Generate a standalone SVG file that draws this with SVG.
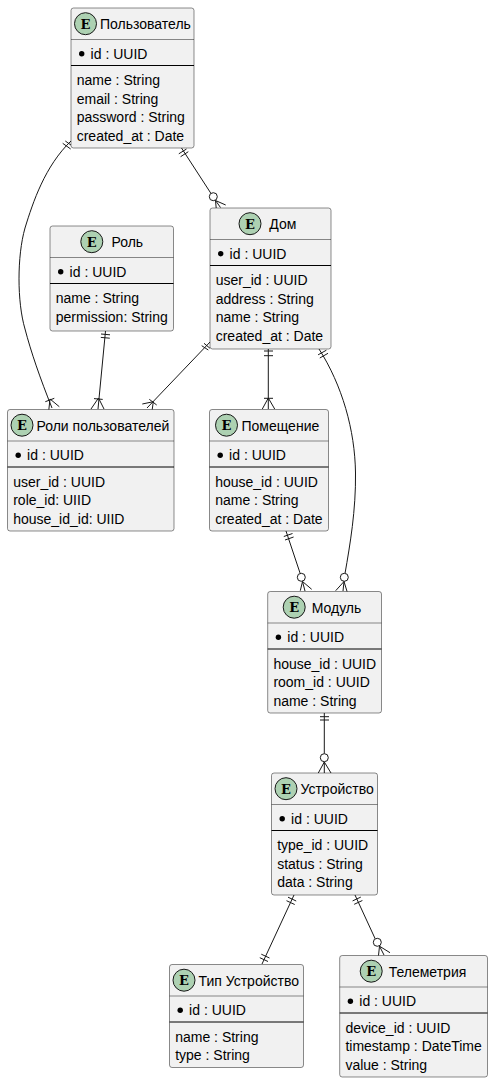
<svg xmlns="http://www.w3.org/2000/svg" width="493" height="1083" viewBox="0 0 493 1083">
<style>
text{font-family:"Liberation Sans",Arial,sans-serif;font-size:14px;fill:#000}
.box{fill:#F1F1F1;stroke:#181818;stroke-width:.5}
.sep{stroke:#181818;stroke-width:.5;fill:none}
.div{stroke:#000;stroke-width:1;fill:none}
.spot{fill:#ADD1B2;stroke:#181818;stroke-width:1}
text.e{font-family:"DejaVu Serif",serif;font-weight:bold;font-size:13px;text-anchor:middle}
.dot{fill:#000}
#connectors path{fill:none;stroke:#181818;stroke-width:1}
#connectors circle{fill:#fff;stroke:#181818;stroke-width:1}
</style>
<rect width="493" height="1083" fill="#fff"/>
<g id="connectors">
<path d="M71,141C45,166 33,202 25,228C17,256 17,302 25,329C31,352 40,378 52,408"/>
<path d="M62.7,143.3L70.7,149M65.3,141L72.3,146"/>
<path d="M48.7,411L50,399L59.3,406.7M45.3,401.7L54.3,398.3"/>
<path d="M181.5,148L211,193.5M178.8,153.8L186.5,149M180.6,156.7L188.3,151.7"/>
<circle cx="213.3" cy="196.7" r="4"/>
<path d="M216.5,211.7L215.5,200.5L225.7,205M215.5,200.5L220.5,207.5"/>
<path d="M105.5,331L98,409M101,334L110,334.8M100.8,337.4L109.8,338.2"/>
<path d="M91,409L98.5,398L104,409M94,398.6L102.7,399.4"/>
<path d="M211,341L147,408M201.7,345.7L208.3,350M204,343.3L210,348.3"/>
<path d="M151.7,413.3L153.3,401.7L142.3,404M149.3,399.3L156.7,405"/>
<path d="M268.3,349V409M264,351H273M264,355.7H273"/>
<path d="M262.3,409L268.3,398L274.7,409M264,398.3H273"/>
<path d="M319,349C342,385 355,430 355.5,473C356,510 350,545 345,573.5M318.1,354.8L326.4,350.2M319.8,358L328,353.3"/>
<circle cx="344.3" cy="577.3" r="4"/>
<path d="M335.7,590.7L344,581.5L347.3,592.3M344,581.5L343,591"/>
<path d="M286,531L300.2,573.5M283.8,536.5L292.5,533.5M285,540L293.6,537"/>
<circle cx="301.3" cy="577.3" r="4"/>
<path d="M300.3,590.7L302.5,581.5L311.7,589.3M302.5,581.5L305,591"/>
<path d="M324.3,713V753.7M320,716.7H329M320,720H329"/>
<circle cx="324.3" cy="757.7" r="4"/>
<path d="M318.3,773L324.3,762L331,773M324.3,762V773"/>
<path d="M294,895L262,964M288,897.2L296.2,901M286.5,900.7L294.7,904.5M261.3,954.2L269.5,958M259.8,957.7L268,961.5"/>
<path d="M355,895L375.2,938.8M352.6,900.9L360.8,897.1M354.2,904.3L362.4,900.5"/>
<circle cx="377.3" cy="942.3" r="4"/>
<path d="M378.3,957.3L379.5,946.2L390,952.7M379.5,946.2L384,955"/>
</g>
<g id="user" transform="translate(71,8)">
<rect class="box" x="0" y="0" width="123" height="140" rx="2.5"/>
<path class="sep" d="M0,31.5H123"/><path class="div" d="M0,57.5H123"/>
<circle class="spot" cx="14.5" cy="15.7" r="11"/><text class="e" x="14.5" y="20.5">E</text>
<text x="29" y="21">Пользователь</text>
<circle class="dot" cx="10.7" cy="45.7" r="2.7"/><text x="19.6" y="50.5">id : UUID</text>
<text x="5.7" y="77">name : String</text><text x="5.7" y="95.6">email : String</text><text x="5.7" y="114.2">password : String</text><text x="5.7" y="133">created_at : Date</text>
</g>
<g id="role" transform="translate(50,226)">
<rect class="box" x="0" y="0" width="123.5" height="105" rx="2.5"/>
<path class="sep" d="M0,31.5H123.5"/><path class="div" d="M0,57.5H123.5"/>
<circle class="spot" cx="41.8" cy="15.7" r="11"/><text class="e" x="41.8" y="20.5">E</text>
<text x="61.5" y="21">Роль</text>
<circle class="dot" cx="10.7" cy="45.7" r="2.7"/><text x="19.6" y="50.5">id : UUID</text>
<text x="5.7" y="77">name : String</text><text x="5.7" y="95.6">permission: String</text>
</g>
<g id="house" transform="translate(210,208)">
<rect class="box" x="0" y="0" width="121" height="141" rx="2.5"/>
<path class="sep" d="M0,31.5H121"/><path class="div" d="M0,57.5H121"/>
<circle class="spot" cx="40" cy="15.7" r="11"/><text class="e" x="40" y="20.5">E</text>
<text x="59.3" y="21">Дом</text>
<circle class="dot" cx="10.7" cy="45.7" r="2.7"/><text x="19.6" y="50.5">id : UUID</text>
<text x="5.7" y="77">user_id : UUID</text><text x="5.7" y="95.6">address : String</text><text x="5.7" y="114.2">name : String</text><text x="5.7" y="133">created_at : Date</text>
</g>
<g id="user_role" transform="translate(7.5,409.5)">
<rect class="box" x="0" y="0" width="166.5" height="121.5" rx="2.5"/>
<path class="sep" d="M0,31.5H166.5"/><path class="div" d="M0,57.5H166.5"/>
<circle class="spot" cx="14.5" cy="15.7" r="11"/><text class="e" x="14.5" y="20.5">E</text>
<text x="29" y="21">Роли пользователей</text>
<circle class="dot" cx="10.7" cy="45.7" r="2.7"/><text x="19.6" y="50.5">id : UUID</text>
<text x="5.7" y="77">user_id : UUID</text><text x="5.7" y="95.6">role_id: UIID</text><text x="5.7" y="114.2">house_id_id: UIID</text>
</g>
<g id="room" transform="translate(209.5,409.5)">
<rect class="box" x="0" y="0" width="119" height="121.5" rx="2.5"/>
<path class="sep" d="M0,31.5H119"/><path class="div" d="M0,57.5H119"/>
<circle class="spot" cx="17" cy="15.7" r="11"/><text class="e" x="17" y="20.5">E</text>
<text x="32" y="21">Помещение</text>
<circle class="dot" cx="10.7" cy="45.7" r="2.7"/><text x="19.6" y="50.5">id : UUID</text>
<text x="5.7" y="77">house_id : UUID</text><text x="5.7" y="95.6">name : String</text><text x="5.7" y="114.2">created_at : Date</text>
</g>
<g id="module" transform="translate(267.7,591.5)">
<rect class="box" x="0" y="0" width="113.8" height="121.5" rx="2.5"/>
<path class="sep" d="M0,31.5H113.8"/><path class="div" d="M0,57.5H113.8"/>
<circle class="spot" cx="26.5" cy="15.7" r="11"/><text class="e" x="26.5" y="20.5">E</text>
<text x="44" y="21">Модуль</text>
<circle class="dot" cx="10.7" cy="45.7" r="2.7"/><text x="19.6" y="50.5">id : UUID</text>
<text x="5.7" y="77">house_id : UUID</text><text x="5.7" y="95.6">room_id : UUID</text><text x="5.7" y="114.2">name : String</text>
</g>
<g id="device" transform="translate(271.5,773)">
<rect class="box" x="0" y="0" width="106" height="122" rx="2.5"/>
<path class="sep" d="M0,31.5H106"/><path class="div" d="M0,57.5H106"/>
<circle class="spot" cx="14.5" cy="15.7" r="11"/><text class="e" x="14.5" y="20.5">E</text>
<text x="29" y="21">Устройство</text>
<circle class="dot" cx="10.7" cy="45.7" r="2.7"/><text x="19.6" y="50.5">id : UUID</text>
<text x="5.7" y="77">type_id : UUID</text><text x="5.7" y="95.6">status : String</text><text x="5.7" y="114.2">data : String</text>
</g>
<g id="device_type" transform="translate(169.5,964.5)">
<rect class="box" x="0" y="0" width="134" height="103" rx="2.5"/>
<path class="sep" d="M0,31.5H134"/><path class="div" d="M0,57.5H134"/>
<circle class="spot" cx="14.5" cy="15.7" r="11"/><text class="e" x="14.5" y="20.5">E</text>
<text x="29" y="21">Тип Устройство</text>
<circle class="dot" cx="10.7" cy="45.7" r="2.7"/><text x="19.6" y="50.5">id : UUID</text>
<text x="5.7" y="77">name : String</text><text x="5.7" y="95.6">type : String</text>
</g>
<g id="telemetry" transform="translate(339.7,955.5)">
<rect class="box" x="0" y="0" width="147.8" height="121.5" rx="2.5"/>
<path class="sep" d="M0,31.5H147.8"/><path class="div" d="M0,57.5H147.8"/>
<circle class="spot" cx="31.5" cy="15.7" r="11"/><text class="e" x="31.5" y="20.5">E</text>
<text x="49" y="21">Телеметрия</text>
<circle class="dot" cx="10.7" cy="45.7" r="2.7"/><text x="19.6" y="50.5">id : UUID</text>
<text x="5.7" y="77">device_id : UUID</text><text x="5.7" y="95.6">timestamp : DateTime</text><text x="5.7" y="114.2">value : String</text>
</g>
</svg>
